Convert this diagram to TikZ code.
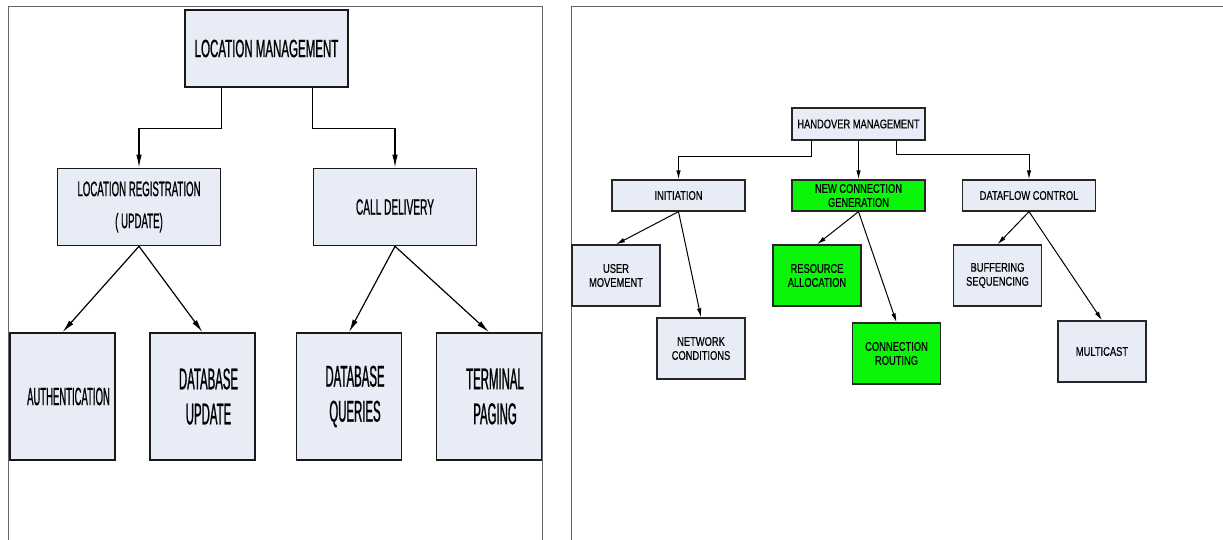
\documentclass[tikz,border=0pt]{standalone}
\usepackage{fontspec}
\usepackage{tikz}
\usetikzlibrary{arrows.meta}
\newfontfamily\widefont[FakeStretch=0.46, FakeBold=0.8]{Liberation Sans}
\newfontfamily\tallfont[FakeStretch=0.38, FakeBold=0.8]{Liberation Sans}
\newfontfamily\smallfont[FakeStretch=0.74, FakeBold=0.4]{Liberation Sans}
\definecolor{boxfill}{RGB}{231,236,247}
\definecolor{boxgreen}{RGB}{10,245,10}
\definecolor{framegray}{RGB}{100,100,100}

\begin{document}
\begin{tikzpicture}[x=1pt, y=1pt,
	lbox/.style={draw=black!90, line width=1.6pt, fill=boxfill, inner sep=0pt, align=center,
		minimum width=163pt, minimum height=77pt},
	sbox/.style={lbox, minimum width=105pt, minimum height=127pt, font=\tallfont\fontsize{30}{35}\selectfont},
	rbox/.style={draw=black!85, line width=1.3pt, fill=boxfill, inner sep=0pt, align=center,
		minimum width=133pt, minimum height=31pt, font=\smallfont\fontsize{12.6}{14}\selectfont},
	qbox/.style={rbox, minimum width=88pt, minimum height=61pt},
	larr/.style={->, line width=1.2pt, >={Latex[length=13pt,width=5.5pt]}},
	rarr/.style={->, line width=1pt, >={Latex[length=9pt,width=4.5pt]}}]
	
	\useasboundingbox (0, 0) rectangle (1223, 540);
	
	% frames
	\draw [framegray, line width=0.9pt] (8, 0) -- (8, 534) -- (542, 534) -- (542, 0);
	\draw [framegray, line width=0.9pt] (571, 0) -- (571, 534) -- (1223, 534);
	
	% location management
	\node [lbox, font=\widefont\fontsize{25}{30}\selectfont] (lm) at (266.5, 491.5) {LOCATION MANAGEMENT};
	\node [lbox, font=\widefont\fontsize{21}{32}\selectfont] (lr) at (139, 333) {LOCATION REGISTRATION\\( UPDATE)};
	\node [lbox, font=\widefont\fontsize{22}{30}\selectfont] (cd) at (395, 333) {CALL DELIVERY};
	
	\node [sbox, font=\tallfont\fontsize{25}{30}\selectfont] (auth) at (62.5, 143.5) {\hspace*{12pt}AUTHENTICATION};
	\node [sbox] (dbu) at (202.5, 143.5) {\hspace*{12pt}DATABASE\\\hspace*{12pt}UPDATE};
	\node [sbox] (dbq) at (349, 143.5) {\hspace*{12pt}DATABASE\\\hspace*{12pt}QUERIES};
	\node [sbox] (tp) at (489, 143.5) {\hspace*{12pt}TERMINAL\\\hspace*{12pt}PAGING};
	
	\draw [larr] (lm.south -| lr.east) -- ++(0, -40.5) -| (lr.north);
	\draw [larr] (lm.south -| cd.west) -- ++(0, -40.5) -| (cd.north);
	\draw [larr] (lr.south) -- (auth.north);
	\draw [larr] (lr.south) -- (dbu.north);
	\draw [larr] (cd.south) -- (dbq.north);
	\draw [larr] (cd.south) -- (tp.north);
	
	% handover management
	\node [rbox, minimum height=32pt] (hm) at (858.5, 416) {HANDOVER MANAGEMENT};
	\node [rbox] (init) at (678.5, 344.5) {INITIATION};
	\node [rbox, fill=boxgreen] (ncg) at (858.5, 344.5) {NEW CONNECTION\\GENERATION};
	\node [rbox] (dfc) at (1029, 344.5) {DATAFLOW CONTROL};
	
	\node [qbox] (um) at (616, 264.5) {USER\\MOVEMENT};
	\node [qbox] (nc) at (701, 191.5) {NETWORK\\CONDITIONS};
	\node [qbox, fill=boxgreen] (ra) at (817, 264.5) {RESOURCE\\ALLOCATION};
	\node [qbox, fill=boxgreen] (cr) at (896.5, 186.5) {CONNECTION\\ROUTING};
	\node [qbox] (bs) at (997.5, 264.5) {BUFFERING\\SEQUENCING};
	\node [qbox] (mc) at (1102, 188.5) {MULTICAST};
	
	\draw [rarr] ([xshift=-47.5pt]hm.south) -- ++(0, -16) -| (init.north);
	\draw [rarr] (hm.south) -- (ncg.north);
	\draw [rarr] ([xshift=37.5pt]hm.south) -- ++(0, -14) -| (dfc.north);
	\draw [rarr] (init.south) -- (um.north);
	\draw [rarr] (init.south) -- (nc.north);
	\draw [rarr] (ncg.south) -- (ra.north);
	\draw [rarr] (ncg.south) -- (cr.north);
	\draw [rarr] (dfc.south) -- (bs.north);
	\draw [rarr] (dfc.south) -- (mc.north);
	
\end{tikzpicture}
\end{document}
